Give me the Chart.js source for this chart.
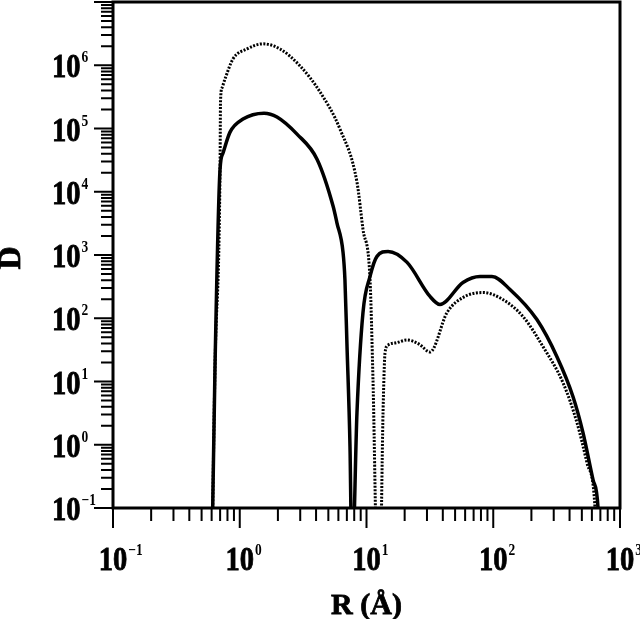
<!DOCTYPE html>
<html>
<head>
<meta charset="utf-8">
<script src="https://cdn.jsdelivr.net/npm/chart.js@4.4.1/dist/chart.umd.min.js"></script>
<style>
  html, body { margin: 0; padding: 0; background: #fff; }
  #wrap { width: 640px; height: 619px; position: relative; }
</style>
</head>
<body>
<div id="wrap"><canvas id="distChart"></canvas></div>
<script>
// solid curve: R (A) and D
const solidR = [0.601, 0.638, 0.699, 0.738, 0.838, 1.061, 1.554, 1.967, 2.83, 4.07, 5.44, 5.85, 6.53, 6.76, 7.02, 7.41, 7.69, 8.41, 9.38, 10.66, 12.1, 14.8, 20.9, 31.7, 38.0, 57.7, 78.6, 97.7, 135.6, 221, 318, 426, 511, 613, 671, 695];
const solidD = [0.01, 17.2, 2.27e4, 4.1e4, 8.77e4, 1.41e5, 1.75e5, 1.52e5, 8.15e4, 3.27e4, 6.0e3, 3.2e3, 1.1e3, 403, 35.6, 0.93, 0.01, 3.2, 123, 458, 951, 1140, 764, 221, 165, 368, 458, 458, 285, 95.3, 24.7, 5.74, 1.54, 0.278, 0.1, 0.01];

// dotted curve
const dottedR = [0.601, 0.638, 0.699, 0.705, 0.724, 0.765, 0.885, 1.141, 1.526, 2.078, 2.99, 4.30, 6.18, 8.41, 9.38, 10.66, 11.25, 12.2, 12.78, 13.5, 14.0, 14.8, 17.4, 20.9, 26.0, 31.7, 43.2, 57.7, 83.0, 119, 172, 247, 355, 458, 549, 635, 659];
const dottedD = [0.01, 17.2, 2.27e4, 2.62e5, 4.37e5, 6.07e5, 1.26e6, 1.81e6, 2.18e6, 1.81e6, 9.75e5, 3.78e5, 9.77e4, 1.42e4, 2.55e3, 410, 10.7, 0.01, 0.01, 3.18, 28.2, 37.8, 41.2, 45.3, 39, 29.3, 123, 213, 255, 198, 106, 35.6, 9.57, 2.22, 0.516, 0.1, 0.01];

// decade exponents for the axes
const xDecades = [-1, 0, 1, 2, 3];
const yDecades = [-1, 0, 1, 2, 3, 4, 5, 6, 7];
const xTitle = 'R (Å)';
const yTitle = 'D';

const FONT = '"Liberation Serif", "Times New Roman", serif';
const SX = 0.84; // digits in the figure are a bit narrow

function toPoints(rs, ds) {
  return rs.map((r, i) => ({ x: r, y: ds[i] }));
}

function boldText(ctx, text, x, y) {
  ctx.fillText(text, x, y);
  ctx.strokeText(text, x, y);
}

function powerLabel(ctx, x, baseline, exp, centered) {
  ctx.font = 'bold 34px ' + FONT;
  const w = ctx.measureText('10').width * SX;
  const left = centered ? x - w / 2 : x;
  ctx.save();
  ctx.translate(left, baseline);
  ctx.scale(SX, 1);
  boldText(ctx, '10', 0, 0);
  ctx.restore();
  const sup = exp < 0 ? '\u2212' + (-exp) : String(exp);
  ctx.font = 'bold 16px ' + FONT;
  ctx.save();
  ctx.translate(left + w + 1, baseline - 15);
  ctx.scale(SX, 1);
  ctx.fillText(sup, 0, 0);
  ctx.restore();
}

const axesPlugin = {
  id: 'axesPlugin',
  afterDatasetsDraw(chart) {
    const { ctx, chartArea: a, scales: { x, y } } = chart;
    ctx.save();
    ctx.strokeStyle = '#000';
    ctx.fillStyle = '#000';
    ctx.lineCap = 'butt';

    // ticks
    ctx.lineWidth = 2;
    ctx.beginPath();
    yDecades.forEach((e, i) => {
      const py = y.getPixelForValue(Math.pow(10, e));
      ctx.moveTo(a.left - 19, py);
      ctx.lineTo(a.left, py);
      if (i < yDecades.length - 1) {
        for (let k = 2; k <= 9; k++) {
          const p = y.getPixelForValue(k * Math.pow(10, e));
          ctx.moveTo(a.left - 12, p);
          ctx.lineTo(a.left, p);
        }
      }
    });
    xDecades.forEach((e, i) => {
      const px = x.getPixelForValue(Math.pow(10, e));
      ctx.moveTo(px, a.bottom);
      ctx.lineTo(px, a.bottom + 20);
      if (i < xDecades.length - 1) {
        for (let k = 2; k <= 9; k++) {
          const p = x.getPixelForValue(k * Math.pow(10, e));
          ctx.moveTo(p, a.bottom);
          ctx.lineTo(p, a.bottom + 13);
        }
      }
    });
    ctx.stroke();

    // frame
    ctx.lineWidth = 3;
    ctx.strokeRect(a.left, a.top, a.right - a.left, a.bottom - a.top);

    // tick labels
    ctx.lineWidth = 0.8;
    ctx.textAlign = 'left';
    ctx.textBaseline = 'alphabetic';
    yDecades.forEach(e => {
      const py = y.getPixelForValue(Math.pow(10, e));
      if (e < 7) powerLabel(ctx, 52, py + 12, e, false);
    });
    xDecades.forEach(e => {
      const px = x.getPixelForValue(Math.pow(10, e));
      powerLabel(ctx, px, 570, e, true);
    });

    // axis titles
    ctx.font = 'bold 32px ' + FONT;
    ctx.textAlign = 'center';
    ctx.textBaseline = 'middle';
    ctx.save();
    ctx.translate(12, 258);
    ctx.rotate(-Math.PI / 2);
    boldText(ctx, yTitle, 0, 0);
    ctx.restore();

    ctx.font = 'bold 30px ' + FONT;
    ctx.textBaseline = 'alphabetic';
    boldText(ctx, xTitle, (a.left + a.right) / 2, 614);
    ctx.restore();
  }
};

new Chart(document.getElementById('distChart'), {
  type: 'line',
  data: {
    datasets: [
      {
        label: 'solid',
        data: toPoints(solidR, solidD),
        borderColor: '#000',
        borderWidth: 3.5,
        pointRadius: 0,
        cubicInterpolationMode: 'monotone'
      },
      {
        label: 'dotted',
        data: toPoints(dottedR, dottedD),
        borderColor: '#000',
        borderWidth: 3,
        borderDash: [2, 1.5],
        pointRadius: 0,
        cubicInterpolationMode: 'monotone'
      }
    ]
  },
  options: {
    responsive: true,
    maintainAspectRatio: false,
    animation: false,
    layout: { padding: { left: 113, top: 2, right: 20, bottom: 111 } },
    plugins: { legend: { display: false }, tooltip: { enabled: false } },
    scales: {
      x: { type: 'logarithmic', min: 0.1, max: 1000, display: false },
      y: { type: 'logarithmic', min: 0.1, max: 1e7, display: false }
    }
  },
  plugins: [axesPlugin]
});
</script>
</body>
</html>
